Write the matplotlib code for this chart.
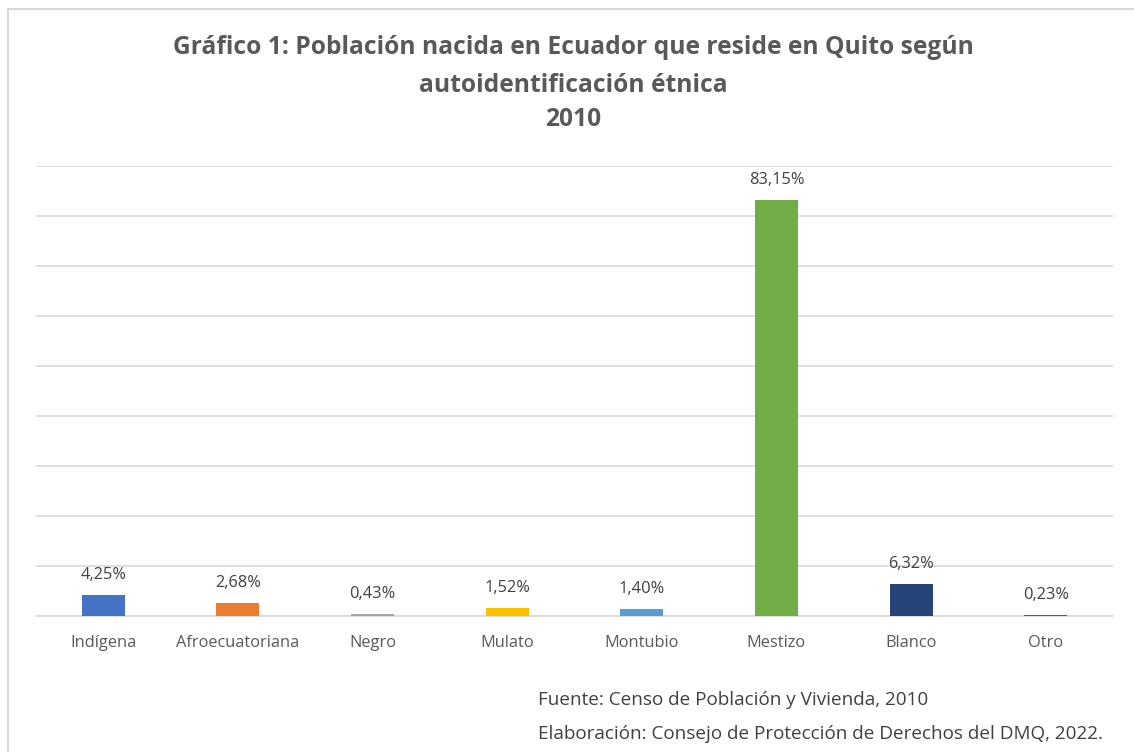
import matplotlib.pyplot as plt
from matplotlib.patches import Rectangle

categorias = ['Indígena', 'Afroecuatoriana', 'Negro', 'Mulato', 'Montubio',
              'Mestizo', 'Blanco', 'Otro']
porcentajes = [4.25, 2.68, 0.43, 1.52, 1.40, 83.15, 6.32, 0.23]
colores = ['#4472C4', '#ED7D31', '#A5A5A5', '#FFC000', '#5B9BD5',
           '#70AD47', '#264478', '#9E480E']

titulo = ['Gráfico 1: Población nacida en Ecuador que reside en Quito según',
          'autoidentificación étnica', '2010']
fuente = 'Fuente: Censo de Población y Vivienda, 2010'
elaboracion = 'Elaboración: Consejo de Protección de Derechos del DMQ, 2022.'

plt.rcParams['font.family'] = ['Open Sans', 'DejaVu Sans']

fig = plt.figure(figsize=(11.34, 7.52), dpi=100)
ax = fig.add_axes([36 / 1134, 1 - 616 / 752, (1113 - 36) / 1134, (616 - 166) / 752])

x = range(len(categorias))
ax.bar(x, porcentajes, width=0.32, color=colores, zorder=3)
for xi, v in zip(x, porcentajes):
    ax.text(xi, v + 2.4, f'{v:.2f}%'.replace('.', ','), ha='center', va='bottom',
            fontsize=11.8, color='#404040')

ax.set_ylim(0, 90)
ax.set_xlim(-0.5, len(categorias) - 0.5)
ax.set_yticks(range(0, 91, 10))
ax.yaxis.grid(True, color='#D9D9D9', linewidth=1.2, zorder=0)
ax.tick_params(axis='y', length=0, labelleft=False)
ax.set_xticks(list(x))
ax.set_xticklabels(categorias, fontsize=11.8, color='#595959')
ax.tick_params(axis='x', length=0, pad=14)
for lado in ['top', 'right', 'left']:
    ax.spines[lado].set_visible(False)
ax.spines['bottom'].set_color('#D9D9D9')
ax.spines['bottom'].set_linewidth(1.2)

for linea, y in zip(titulo, [47, 85, 120]):
    fig.text(573 / 1134, 1 - y / 752, linea, ha='center', va='center', fontsize=17.7,
             fontweight='bold', color='#595959')
fig.text(538 / 1134, 1 - 700 / 752, fuente, ha='left', va='center', fontsize=13.6,
         color='#404040')
fig.text(538 / 1134, 1 - 734 / 752, elaboracion, ha='left', va='center', fontsize=13.6,
         color='#404040')

fig.patches.append(Rectangle((7.5 / 1134, -0.01), 1.05, 1 - 9 / 752 + 0.01,
                             transform=fig.transFigure, fill=False,
                             edgecolor='#D9D9D9', linewidth=1.5))

fig.savefig('out.png', dpi=100)
